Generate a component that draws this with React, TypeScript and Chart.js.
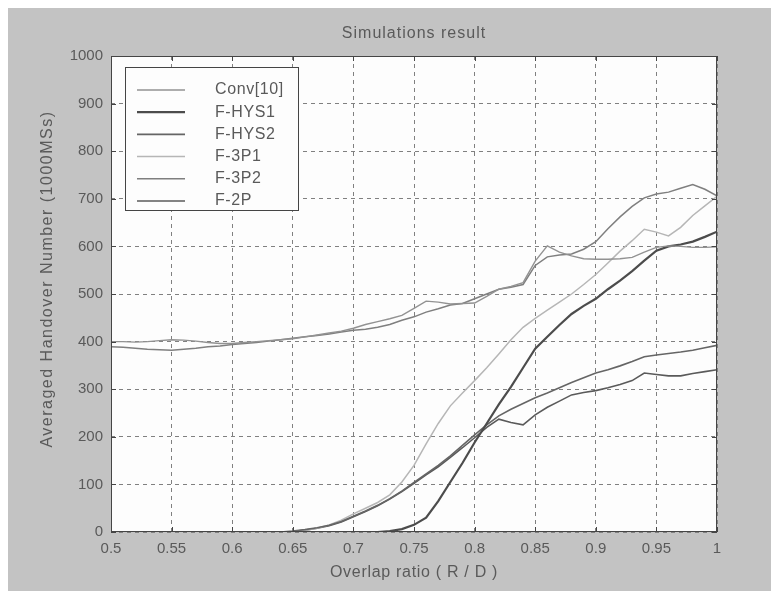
import React, { useEffect, useRef } from "react";
import { Chart, registerables } from "chart.js";

Chart.register(...registerables);

// ---------------- data ----------------
const ratio = [
  0.5, 0.51, 0.52, 0.53, 0.54, 0.55, 0.56, 0.57, 0.58, 0.59,
  0.6, 0.61, 0.62, 0.63, 0.64, 0.65, 0.66, 0.67, 0.68, 0.69,
  0.7, 0.71, 0.72, 0.73, 0.74, 0.75, 0.76, 0.77, 0.78, 0.79,
  0.8, 0.81, 0.82, 0.83, 0.84, 0.85, 0.86, 0.87, 0.88, 0.89,
  0.9, 0.91, 0.92, 0.93, 0.94, 0.95, 0.96, 0.97, 0.98, 0.99,
  1.0,
];

const conv10 = [
  400, 400, 399, 400, 402, 404, 403, 401, 398, 396,
  396, 398, 400, 402, 404, 406, 410, 414, 418, 422,
  428, 436, 442, 448, 455, 470, 485, 483, 479, 480,
  481, 495, 510, 516, 524, 569, 601, 588, 580, 574,
  573, 573, 574, 577, 588, 598, 601, 600, 598, 598,
  599,
];

const fHys1 = [
  0, 0, 0, 0, 0, 0, 0, 0, 0, 0,
  0, 0, 0, 0, 0, 0, 0, 0, 0, 0,
  0, 0, 0, 2, 6, 15, 30, 65, 105, 145,
  188, 228, 268, 305, 345, 385, 410, 435, 458, 475,
  490, 510, 528, 548, 570, 591, 600, 604, 610, 620,
  631,
];

const fHys2 = [
  0, 0, 0, 0, 0, 0, 0, 0, 0, 0,
  0, 0, 0, 0, 0, 2, 5, 9, 14, 22,
  33, 44, 56, 70, 86, 104, 122, 140, 160, 182,
  204, 225, 244, 258, 270, 282, 292, 303, 314, 324,
  334, 341, 349, 358, 368, 372, 375, 378, 382, 387,
  392,
];

const f3p1 = [
  0, 0, 0, 0, 0, 0, 0, 0, 0, 0,
  0, 0, 0, 0, 0, 0, 3, 8, 15, 25,
  38, 50, 62, 78, 105, 140, 185, 228, 265, 292,
  318, 345, 374, 404, 430, 449, 466, 483, 500, 520,
  541, 565, 590, 612, 636, 630, 622, 640, 665, 685,
  705,
];

const f3p2 = [
  389, 388, 386, 384, 383, 382, 384, 386, 389, 391,
  394, 396, 398, 401, 404, 407, 410, 413, 416, 420,
  424, 426, 430, 436, 445, 452, 462, 469, 477, 480,
  490, 500, 510, 514, 520, 560, 578, 582, 584, 594,
  610, 637, 662, 684, 702, 710, 714, 722, 730, 720,
  706,
];

const f2p = [
  0, 0, 0, 0, 0, 0, 0, 0, 0, 0,
  0, 0, 0, 0, 0, 1, 4, 8, 13, 21,
  32, 43, 55, 69, 85, 102, 120, 137, 157, 177,
  198, 220, 237, 230, 225, 246, 262, 275, 288, 293,
  297, 303, 310, 318, 334, 331, 328, 328, 333, 337,
  341,
];

const seriesNames = ["Conv[10]", "F-HYS1", "F-HYS2", "F-3P1", "F-3P2", "F-2P"];
const seriesValues = [conv10, fHys1, fHys2, f3p1, f3p2, f2p];

const xTickValues = [0.5, 0.55, 0.6, 0.65, 0.7, 0.75, 0.8, 0.85, 0.9, 0.95, 1.0];
const xTickLabels = ["0.5", "0.55", "0.6", "0.65", "0.7", "0.75", "0.8", "0.85", "0.9", "0.95", "1"];
const yTickValues = [0, 100, 200, 300, 400, 500, 600, 700, 800, 900, 1000];
const yTickLabels = ["0", "100", "200", "300", "400", "500", "600", "700", "800", "900", "1000"];

const chartTitle = "Simulations result";
const xTitle = "Overlap ratio ( R / D )";
const yTitle = "Averaged Handover Number (1000MSs)";

// ---------------- styles ----------------
const seriesColors = ["#929292", "#4c4c4c", "#656565", "#b6b6b6", "#7f7f7f", "#5a5a5a"];
const seriesWidths = [1.4, 2.2, 1.6, 1.5, 1.5, 1.6];

const FONT = "'Liberation Sans', Arial, Helvetica, sans-serif";
const BG = "#c3c3c3";
const TEXT = "#5a5a5a";

const W = 771;
const H = 583;

const decorPlugin = {
  id: "decor",
  beforeDraw(chart: any) {
    const { ctx, chartArea: a } = chart;
    ctx.save();
    ctx.fillStyle = BG;
    ctx.fillRect(0, 0, chart.width, chart.height);
    ctx.fillStyle = "#fdfdfd";
    ctx.fillRect(a.left, a.top, a.right - a.left, a.bottom - a.top);
    ctx.restore();
  },
  afterDraw(chart: any) {
    const { ctx, chartArea: a, scales } = chart;
    ctx.save();
    // frame
    ctx.strokeStyle = "#454545";
    ctx.lineWidth = 1;
    ctx.strokeRect(a.left + 0.5, a.top + 0.5, a.right - a.left - 1, a.bottom - a.top - 1);
    // inner tick marks
    ctx.beginPath();
    xTickValues.forEach((v) => {
      const px = Math.round(scales.x.getPixelForValue(v)) + 0.5;
      ctx.moveTo(px, a.bottom);
      ctx.lineTo(px, a.bottom - 5);
      ctx.moveTo(px, a.top);
      ctx.lineTo(px, a.top + 5);
    });
    yTickValues.forEach((v) => {
      const py = Math.round(scales.y.getPixelForValue(v)) + 0.5;
      ctx.moveTo(a.left, py);
      ctx.lineTo(a.left + 5, py);
      ctx.moveTo(a.right, py);
      ctx.lineTo(a.right - 5, py);
    });
    ctx.stroke();

    // titles
    ctx.fillStyle = TEXT;
    ctx.textAlign = "center";
    ctx.textBaseline = "middle";
    (ctx as any).letterSpacing = "1px";
    ctx.font = `16px ${FONT}`;
    ctx.fillText(chartTitle, (a.left + a.right) / 2, 26);
    (ctx as any).letterSpacing = "0.7px";
    ctx.fillText(xTitle, (a.left + a.right) / 2, 565);
    ctx.save();
    ctx.translate(40, 271);
    ctx.rotate(-Math.PI / 2);
    (ctx as any).letterSpacing = "1.5px";
    ctx.fillText(yTitle, 0, 0);
    ctx.restore();

    // legend box
    const bx = a.left + 14;
    const by = a.top + 11;
    const bw = 173;
    const bh = 143;
    ctx.fillStyle = "#fdfdfd";
    ctx.fillRect(bx, by, bw, bh);
    ctx.strokeStyle = "#454545";
    ctx.lineWidth = 1;
    ctx.strokeRect(bx + 0.5, by + 0.5, bw, bh);
    (ctx as any).letterSpacing = "0.6px";
    ctx.font = `16px ${FONT}`;
    ctx.textAlign = "left";
    ctx.textBaseline = "middle";
    chart.data.datasets.forEach((ds: any, i: number) => {
      const y = by + 23 + i * 22.2;
      ctx.strokeStyle = ds.borderColor;
      ctx.lineWidth = ds.borderWidth;
      ctx.beginPath();
      ctx.moveTo(bx + 12, y);
      ctx.lineTo(bx + 60, y);
      ctx.stroke();
      ctx.fillStyle = TEXT;
      ctx.fillText(ds.label, bx + 90, y);
    });
    ctx.restore();
  },
};

export default function App() {
  const ref = useRef<HTMLCanvasElement>(null);

  useEffect(() => {
    if (!ref.current) return;
    const chart = new Chart(ref.current, {
      type: "line",
      data: {
        datasets: seriesNames.map((name, i) => ({
          label: name,
          data: ratio.map((r, j) => ({ x: r, y: seriesValues[i][j] })),
          borderColor: seriesColors[i],
          backgroundColor: seriesColors[i],
          borderWidth: seriesWidths[i],
          pointRadius: 0,
          tension: 0,
          fill: false,
        })),
      },
      options: {
        responsive: false,
        animation: false,
        devicePixelRatio: 1,
        layout: { padding: { top: 48, right: 62, bottom: 0, left: 0 } },
        plugins: {
          legend: { display: false },
          title: { display: false },
          tooltip: { enabled: false },
        },
        scales: {
          x: {
            type: "linear",
            min: 0.5,
            max: 1,
            afterBuildTicks: (s: any) => {
              s.ticks = xTickValues.map((v) => ({ value: v }));
            },
            afterFit: (s: any) => {
              s.height = 59;
            },
            ticks: {
              autoSkip: false,
              maxRotation: 0,
              padding: 8,
              color: TEXT,
              font: { family: FONT, size: 15 },
              callback: (_v: any, i: number) => xTickLabels[i],
            },
            grid: {
              color: "#808080",
              lineWidth: 1,
              drawTicks: false,
            },
            border: { display: false, dash: [4, 4] },
          },
          y: {
            type: "linear",
            min: 0,
            max: 1000,
            afterBuildTicks: (s: any) => {
              s.ticks = yTickValues.map((v) => ({ value: v }));
            },
            afterFit: (s: any) => {
              s.width = 103;
            },
            ticks: {
              autoSkip: false,
              padding: 8,
              color: TEXT,
              font: { family: FONT, size: 15 },
              callback: (_v: any, i: number) => yTickLabels[i],
            },
            grid: {
              color: "#808080",
              lineWidth: 1,
              drawTicks: false,
            },
            border: { display: false, dash: [4, 4] },
          },
        },
      },
      plugins: [decorPlugin],
    });
    return () => chart.destroy();
  }, []);

  return (
    <div style={{ width: W, height: H }}>
      <canvas ref={ref} width={W} height={H} style={{ display: "block" }} />
    </div>
  );
}
